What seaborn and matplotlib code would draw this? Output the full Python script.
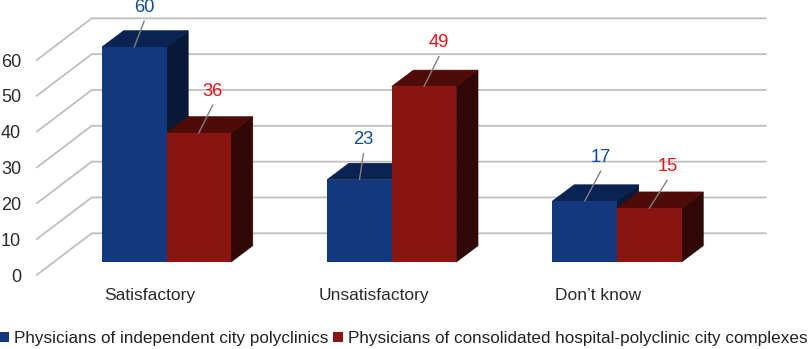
import matplotlib
matplotlib.use("Agg")
import matplotlib.pyplot as plt
from matplotlib.patches import Polygon
from matplotlib.transforms import ScaledTranslation
import pandas as pd
import seaborn as sns

categories = ["Satisfactory", "Unsatisfactory", "Don\u2019t know"]
series_a_name = "Physicians of independent city polyclinics"
series_b_name = "Physicians of consolidated hospital-polyclinic city complexes"
series_a = [60, 23, 17]
series_b = [36, 49, 15]
y_ticks = [0, 10, 20, 30, 40, 50, 60]

W, H, DPI = 810, 349, 100
BASE_PX, UNIT_PX = 262.0, 3.583
C0_PX, STEP_PX = 166.5, 225.25
LEFT_PX, RIGHT_PX, BOTTOM_PX = 36.7, 766.0, 275.0
colors = {"a": "#14387F", "b": "#8A1410"}
top_c = {"a": "#0B2352", "b": "#4E0B08"}
side_c = {"a": "#091A38", "b": "#300806"}
label_c = {"a": "#0F4C9A", "b": "#E8141C"}
leader_dx = {"a": [10, 4, 16], "b": [14, 15, 18]}
leader_dy = {"a": [26, 26, 30], "b": [28, 30, 28]}
xlabel_shift = [-17, -18, -19]

plt.rcParams["font.family"] = ["Liberation Sans", "DejaVu Sans"]
sns.set_style("white")
plt.rcParams["font.family"] = ["Liberation Sans", "DejaVu Sans"]

df = pd.DataFrame({
    "Response": categories * 2,
    "Percent": series_a + series_b,
    "Group": [series_a_name] * 3 + [series_b_name] * 3,
})

fig = plt.figure(figsize=(W / DPI, H / DPI), dpi=DPI)
ax = fig.add_axes([LEFT_PX / W, (H - BOTTOM_PX) / H, (RIGHT_PX - LEFT_PX) / W, BOTTOM_PX / H])
sns.barplot(data=df, x="Response", y="Percent", hue="Group",
            palette=[colors["a"], colors["b"]], saturation=1, width=0.573,
            gap=0, ax=ax, zorder=3, linewidth=0)

to_x = lambda px: (px - C0_PX) / STEP_PX
to_y = lambda px: (BASE_PX - px) / UNIT_PX
dxw = lambda px: px / STEP_PX
dyh = lambda px: px / UNIT_PX

ax.set_xlim(to_x(LEFT_PX), to_x(RIGHT_PX))
ax.set_ylim(to_y(BOTTOM_PX), to_y(0))
sns.despine(ax=ax, left=True, bottom=True)
ax.set_xlabel("")
ax.set_ylabel("")
ax.grid(False)

# wall grid lines
back_x = to_x(91.7)
for v in y_ticks:
    ax.plot([to_x(LEFT_PX), back_x, to_x(RIGHT_PX)],
            [to_y(BOTTOM_PX) + v, to_y(233.3) + v, to_y(233.3) + v],
            color="#BFBFBF", lw=1.3, zorder=1, clip_on=False, solid_joinstyle="miter")

# bar depth faces
bdx, bdy = dxw(21.7), dyh(16.3)
for key, cont in zip("ab", ax.containers):
    for i, bar in enumerate(cont):
        x0, x1, h = bar.get_x(), bar.get_x() + bar.get_width(), bar.get_height()
        ax.add_patch(Polygon([(x1, 0), (x1 + bdx, bdy), (x1 + bdx, h + bdy), (x1, h)],
                             fc=side_c[key], ec=side_c[key], lw=0.5, zorder=2))
        ax.add_patch(Polygon([(x0, h), (x0 + bdx, h + bdy), (x1 + bdx, h + bdy), (x1, h)],
                             fc=top_c[key], ec=top_c[key], lw=0.5, zorder=2))
        ax.annotate(f"{h:.0f}", xy=(x0 + bar.get_width() / 2, h),
                    xytext=(leader_dx[key][i] * 72 / DPI, (leader_dy[key][i] + 14) * 72 / DPI),
                    textcoords="offset points", ha="center", va="center",
                    fontsize=13.2, color=label_c[key], zorder=6, annotation_clip=False)
        ax.annotate("", xy=(x0 + bar.get_width() / 2, h),
                    xytext=(leader_dx[key][i] * 72 / DPI, leader_dy[key][i] * 72 / DPI),
                    textcoords="offset points",
                    arrowprops=dict(arrowstyle="-", color="#7F7F7F", lw=1, shrinkA=0, shrinkB=0),
                    zorder=5)

# axes labels on the front plane
ax.set_yticks(y_ticks)
ax.set_yticklabels([str(v) for v in y_ticks])
ax.tick_params(axis="y", length=0, pad=11.3, labelsize=13, labelcolor="#2B2B2B")
ax.tick_params(axis="x", length=0, pad=9.6, labelsize=12.5, labelcolor="#2B2B2B")
y_off = ScaledTranslation(0, -13 / DPI, fig.dpi_scale_trans)
for lab in ax.get_yticklabels():
    lab.set_transform(lab.get_transform() + y_off)
for lab, s in zip(ax.get_xticklabels(), xlabel_shift):
    lab.set_transform(lab.get_transform() + ScaledTranslation(s / DPI, 0, fig.dpi_scale_trans))

handles, labels = ax.get_legend_handles_labels()
fig.legend(handles, labels, ncol=2, loc="center left", bbox_to_anchor=(-0.001, (H - 338.5) / H),
           frameon=False, fontsize=12.3, handlelength=0.55, handleheight=0.55,
           handletextpad=0.3, columnspacing=0.3, labelcolor="#222222",
           borderpad=0, borderaxespad=0)
if ax.get_legend():
    ax.get_legend().remove()

fig.savefig("out.png", dpi=DPI, facecolor="white")
